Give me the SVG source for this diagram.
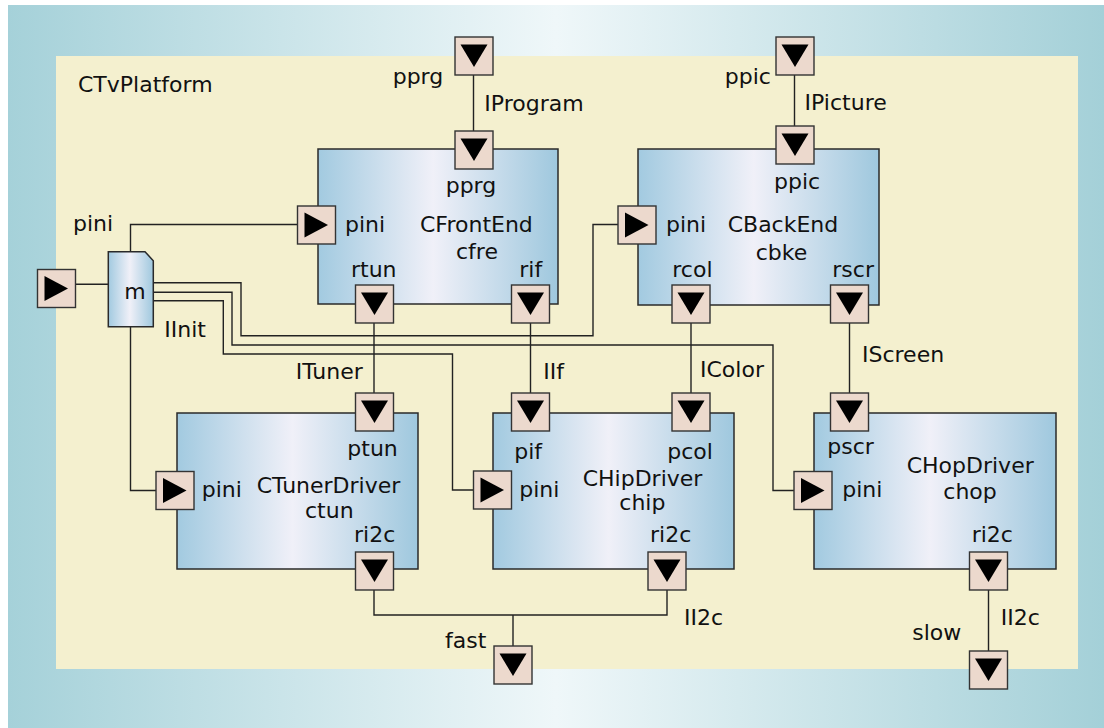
<svg xmlns="http://www.w3.org/2000/svg" xmlns:xlink="http://www.w3.org/1999/xlink" width="1104" height="728" viewBox="0 0 1104 728">
<defs>
<linearGradient id="bg" x1="0" y1="0" x2="1" y2="0">
<stop offset="0" stop-color="#a5d1d9"/>
<stop offset="0.5" stop-color="#eff7f9"/>
<stop offset="1" stop-color="#a4d0d8"/>
</linearGradient>
<linearGradient id="box" x1="0" y1="0" x2="1" y2="0">
<stop offset="0" stop-color="#a2cae0"/>
<stop offset="0.48" stop-color="#f0f0f8"/>
<stop offset="1" stop-color="#9fc8de"/>
</linearGradient>
<g id="pd">
<rect x="0" y="0" width="38" height="38" class="port"/>
<polygon points="5.5,7.5 32.5,7.5 19,30" fill="#000"/>
</g>
<g id="pr">
<rect x="0" y="0" width="38" height="38" class="port"/>
<polygon points="7,6.5 7,31.5 30.5,19" fill="#000"/>
</g>
</defs>
<style>
.port{fill:#ecd9cd;stroke:#333;stroke-width:1.4}
.box{fill:url(#box);stroke:#2a2a2a;stroke-width:1.5}
.wire{fill:none;stroke:#222;stroke-width:1.4}
text{font-family:"DejaVu Sans",Verdana,sans-serif;font-size:22px;fill:#111}
.mid{text-anchor:middle}
</style>
<rect x="8" y="5" width="1096" height="723" fill="url(#bg)"/>
<g id="platform">
<rect x="56" y="56" width="1022" height="613" fill="#f4f0cf"/>
<text x="78" y="92">CTvPlatform</text>
</g>
<g id="connectors">
<path class="wire" d="M473.5 75 V131"/>
<path class="wire" d="M794.5 75 V126"/>
<path class="wire" d="M130.5 251.7 V224.5 H297.5"/>
<path class="wire" d="M153.3 282.7 H241 V335.7 H593 V224.5 H618"/>
<path class="wire" d="M153.3 292.3 H232 V345 H773 V490.5 H794"/>
<path class="wire" d="M153.3 300.7 H223.3 V354 H452.5 V490 H473.5"/>
<path class="wire" d="M130.5 326.7 V490.5 H156"/>
<path class="wire" d="M75.5 284.3 H108.3"/>
<path class="wire" d="M374 323 V393"/>
<path class="wire" d="M530.5 323 V393"/>
<path class="wire" d="M691 323 V393"/>
<path class="wire" d="M849.5 323 V393"/>
<path class="wire" d="M374 590 V615 H667 V590 M513 615 V646"/>
<path class="wire" d="M988.5 590 V651"/>
<text x="484.3" y="110.7">IProgram</text>
<text x="804.6" y="110">IPicture</text>
<text x="164.3" y="336.7">IInit</text>
<text x="295.7" y="379">ITuner</text>
<text x="543.3" y="379">IIf</text>
<text x="700" y="377">IColor</text>
<text x="862" y="362">IScreen</text>
<text x="684" y="625">II2c</text>
<text x="1000.7" y="625">II2c</text>
</g>
<g id="ext-pprg">
<use xlink:href="#pd" x="455" y="37"/>
<text x="392.7" y="84">pprg</text>
</g>
<g id="ext-ppic">
<use xlink:href="#pd" x="776" y="37"/>
<text x="724.8" y="84">ppic</text>
</g>
<g id="ext-pini">
<use xlink:href="#pr" x="37.5" y="269.5"/>
<text x="73" y="231">pini</text>
</g>
<g id="ext-fast">
<use xlink:href="#pd" x="494" y="646"/>
<text x="445" y="647.7">fast</text>
</g>
<g id="ext-slow">
<use xlink:href="#pd" x="969.5" y="651"/>
<text x="912.3" y="640">slow</text>
</g>
<g id="m">
<path class="box" d="M108.3 251.7 H145 L153.3 260.7 V326.7 H108.3 Z"/>
<text x="124.3" y="299.3">m</text>
</g>
<g id="cfre">
<rect class="box" x="318" y="149" width="240" height="155"/>
<use xlink:href="#pd" x="455" y="131"/>
<use xlink:href="#pr" x="297.5" y="206"/>
<use xlink:href="#pd" x="355.5" y="285"/>
<use xlink:href="#pd" x="511.5" y="285"/>
<text x="445.7" y="192.7">pprg</text>
<text x="345" y="231.7">pini</text>
<text x="420" y="231.7">CFrontEnd</text>
<text x="456" y="258.5">cfre</text>
<text x="351" y="277">rtun</text>
<text x="519.3" y="277">rif</text>
</g>
<g id="cbke">
<rect class="box" x="638" y="149" width="241" height="156"/>
<use xlink:href="#pd" x="776" y="126"/>
<use xlink:href="#pr" x="618" y="206"/>
<use xlink:href="#pd" x="672" y="285"/>
<use xlink:href="#pd" x="830.5" y="285"/>
<text x="774" y="189">ppic</text>
<text x="666" y="231.7">pini</text>
<text x="727.7" y="231.7">CBackEnd</text>
<text x="755.7" y="260">cbke</text>
<text x="672.3" y="276.7">rcol</text>
<text x="832.3" y="276.7">rscr</text>
</g>
<g id="ctun">
<rect class="box" x="177" y="413" width="241" height="156"/>
<use xlink:href="#pd" x="355.5" y="393"/>
<use xlink:href="#pr" x="156" y="471.5"/>
<use xlink:href="#pd" x="355.5" y="552"/>
<text x="347.3" y="455.5">ptun</text>
<text x="201.7" y="496.7">pini</text>
<text x="256.7" y="493">CTunerDriver</text>
<text x="305" y="518.3">ctun</text>
<text x="354" y="541.7">ri2c</text>
</g>
<g id="chip">
<rect class="box" x="493" y="413" width="241" height="156"/>
<use xlink:href="#pd" x="511.5" y="393"/>
<use xlink:href="#pd" x="672" y="393"/>
<use xlink:href="#pr" x="473.5" y="471"/>
<use xlink:href="#pd" x="648" y="552"/>
<text x="514.3" y="459">pif</text>
<text x="667.3" y="459">pcol</text>
<text x="519.3" y="496.7">pini</text>
<text x="582.7" y="485.7">CHipDriver</text>
<text x="619.3" y="510">chip</text>
<text x="650" y="541.7">ri2c</text>
</g>
<g id="chop">
<rect class="box" x="814" y="413" width="242" height="156"/>
<use xlink:href="#pd" x="830.5" y="393"/>
<use xlink:href="#pr" x="794" y="471.5"/>
<use xlink:href="#pd" x="969.5" y="552"/>
<text x="827.3" y="454">pscr</text>
<text x="842.3" y="497.3">pini</text>
<text x="906.7" y="473.3">CHopDriver</text>
<text x="943.3" y="499.3">chop</text>
<text x="971.7" y="541.7">ri2c</text>
</g>
</svg>
